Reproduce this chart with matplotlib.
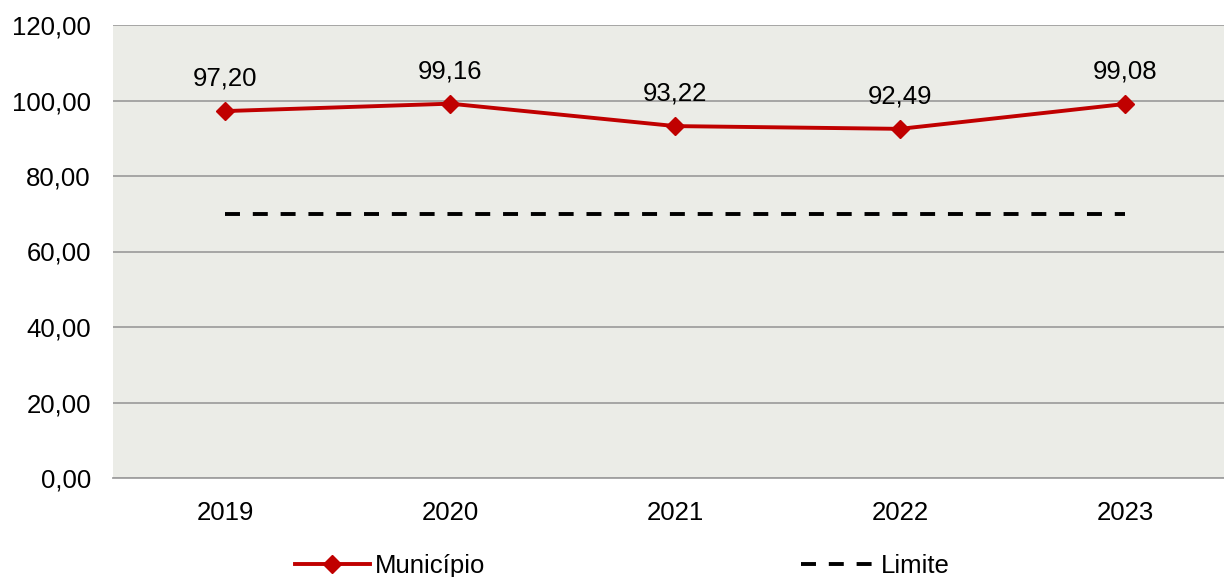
import matplotlib
matplotlib.use('Agg')
import matplotlib.pyplot as plt
from matplotlib.lines import Line2D

years = ['2019', '2020', '2021', '2022', '2023']
municipio = [97.20, 99.16, 93.22, 92.49, 99.08]
limite = [70, 70, 70, 70, 70]
yticks = [0, 20, 40, 60, 80, 100, 120]

plt.rcParams['font.family'] = ['Liberation Sans', 'DejaVu Sans']
FS = 18.5

fig = plt.figure(figsize=(12.24, 5.77), dpi=100)
ax = fig.add_axes([113 / 1224, 1 - 478 / 577, 1111 / 1224, 453 / 577])
ax.set_facecolor('#EBECE7')

x = list(range(len(years)))
red = '#C00000'
dash = (0, (3.85, 3.3))
ax.plot(x, municipio, color=red, lw=2.8, marker='D', ms=9.5, mec=red, mfc=red, zorder=3)
ax.plot(x, limite, color='black', lw=2.8, ls=dash, zorder=3)

for xi, v in zip(x, municipio):
    label = f'{v:.2f}'.replace('.', ',')
    ax.annotate(label, (xi, v), xytext=(0, 23.5), textcoords='offset points',
                ha='center', va='center', fontsize=FS)

ax.set_xlim(-0.5, 4.44)
ax.set_ylim(0, 120)
ax.set_yticks(yticks)
ax.set_yticklabels([f'{t:.2f}'.replace('.', ',') for t in yticks], fontsize=FS)
ax.set_xticks(x)
ax.set_xticklabels(years, fontsize=FS)
ax.tick_params(length=0)
ax.tick_params(axis='y', pad=16)
ax.tick_params(axis='x', pad=16.5)
ax.grid(axis='y', color='#A0A0A0', lw=1.3)
ax.set_axisbelow(True)
for s in ['top', 'right', 'left']:
    ax.spines[s].set_visible(False)
ax.spines['bottom'].set_color('#A0A0A0')
ax.spines['bottom'].set_linewidth(1.3)

h1 = Line2D([], [], color=red, lw=2.8, marker='D', ms=9.5)
h2 = Line2D([], [], color='black', lw=2.8, ls=dash)
fig.legend([h1], ['Município'], loc='center', bbox_to_anchor=(390 / 1224, 1 - 566 / 577),
           frameon=False, fontsize=FS, handlelength=2.9, handletextpad=0.2)
fig.legend([h2], ['Limite'], loc='center', bbox_to_anchor=(875 / 1224, 1 - 566 / 577),
           frameon=False, fontsize=FS, handlelength=2.9, handletextpad=0.2)

fig.savefig('out.png', dpi=100)
